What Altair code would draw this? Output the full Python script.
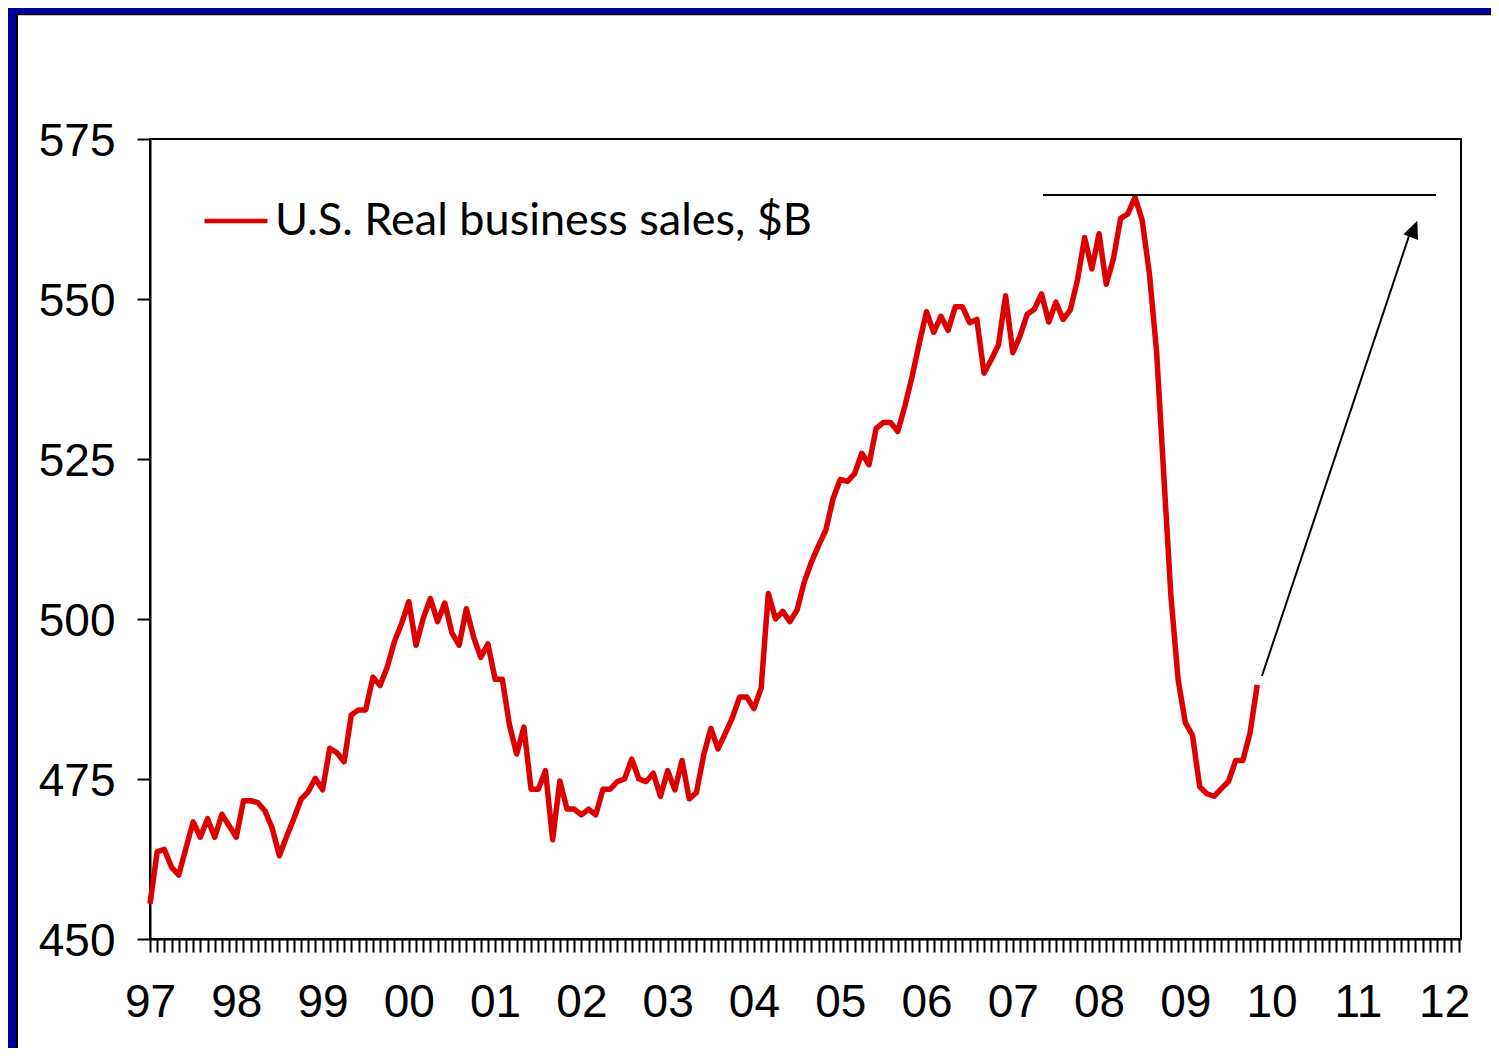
import altair as alt
import pandas as pd

# ---------------- data ----------------
START_YEAR = 1997
# monthly values, Jan 1997 onwards ($B)
sales = [
    455.5, 463.6, 464.0, 461.2, 460.0, 464.2, 468.3, 465.9, 468.8, 465.9, 469.5, 467.7,
    465.9, 471.6, 471.6, 471.3, 470.0, 467.3, 463.0, 466.0, 468.8, 471.8, 473.0, 475.1,
    473.3, 479.8, 479.1, 477.7, 485.0, 485.8, 485.8, 490.9, 489.6, 492.5, 496.5, 499.3,
    502.7, 495.9, 500.1, 503.2, 499.6, 502.5, 497.8, 495.9, 501.6, 497.2, 494.0, 496.1,
    490.6, 490.6, 483.4, 478.9, 483.1, 473.4, 473.4, 476.3, 465.5, 474.7, 470.3, 470.3,
    469.4, 470.3, 469.4, 473.4, 473.4, 474.6, 475.0, 478.1, 475.0, 474.6, 475.9, 472.3,
    476.3, 473.3, 477.9, 471.9, 472.9, 478.7, 482.9, 479.7, 482.1, 484.6, 487.8, 487.8,
    486.0, 489.2, 504.0, 500.0, 501.2, 499.6, 501.4, 505.8, 508.9, 511.5, 513.9, 518.8,
    521.8, 521.5, 522.7, 525.9, 524.1, 529.8, 530.7, 530.7, 529.3, 533.3, 537.9, 543.1,
    548.0, 544.8, 547.3, 545.1, 548.8, 548.8, 546.3, 546.8, 538.4, 540.5, 542.8, 550.5,
    541.6, 544.2, 547.6, 548.4, 550.8, 546.4, 549.5, 546.8, 548.3, 553.0, 559.6, 554.7,
    560.2, 552.3, 556.3, 562.6, 563.3, 565.9, 562.3, 554.0, 541.8, 522.5, 503.5, 490.5,
    483.8, 481.8, 473.8, 472.7, 472.3, 473.5, 474.6, 477.9, 477.9, 482.2, 489.7,
]
series_name = "U.S. Real business sales, $B"

x_domain = [1997.0, 2012.195]
y_domain = [450, 575]
y_ticks = [450, 475, 500, 525, 550, 575]

# annotation: horizontal line at the previous peak, and the recovery arrow
peak_x = [2007.35, 2011.905]
peak_y = [566.25]
arrow_x = [2009.888, 2011.592]
arrow_y = [491.1, 559.84]
arrow_head_x = [2011.65]
arrow_head_y = [560.94]

# ---------------- tables ----------------
df = pd.DataFrame({
    "t": [START_YEAR + i / 12 for i in range(len(sales))],
    "value": sales,
    "series": [series_name] * len(sales),
})
peak_df = pd.DataFrame({"t": [peak_x[0]], "t2": [peak_x[1]], "v": peak_y})
arrow_df = pd.DataFrame({"t": [arrow_x[0]], "t2": [arrow_x[1]],
                         "v": [arrow_y[0]], "v2": [arrow_y[1]]})
head_df = pd.DataFrame({"t": arrow_head_x, "v": arrow_head_y})
deco_df = pd.DataFrame({"k": [0]})

month_vals = [START_YEAR + k / 12 for k in range(0, 183)]

x_scale = alt.Scale(domain=x_domain, nice=False, zero=False)
y_scale = alt.Scale(domain=y_domain, nice=False, zero=False)

x_axis = alt.Axis(
    values=month_vals,
    labelExpr="abs(datum.value - round(datum.value)) < 0.001 ? slice(toString(round(datum.value)), 2) : ''",
    labelOverlap=False, labelFlush=False, labelBound=False,
    tickSize=13, tickWidth=2, tickColor="black",
    domainColor="black", domainWidth=2,
    labelFont="Liberation Sans", labelFontSize=46, labelColor="black",
    labelPadding=28, grid=False, title=None,
)
y_axis = alt.Axis(
    values=y_ticks, tickSize=13, tickWidth=2, tickColor="black",
    domainColor="black", domainWidth=2,
    labelFont="Liberation Sans", labelFontSize=46, labelColor="black",
    labelPadding=22, labelOffset=2, grid=False, title=None,
)

X = alt.X("t:Q", scale=x_scale, axis=x_axis)
Y = alt.Y("value:Q", scale=y_scale, axis=y_axis)

# decorative navy frame on the left and top edges of the page
left_strip = alt.Chart(deco_df).mark_rect(color="#000099").encode(
    x=alt.value(-142), x2=alt.value(-134), y=alt.value(-131), y2=alt.value(909))
top_strip = alt.Chart(deco_df).mark_rect(color="#000099").encode(
    x=alt.value(-142), x2=alt.value(1341), y=alt.value(-131), y2=alt.value(-125))
left_edge = alt.Chart(deco_df).mark_rule(color="black", strokeWidth=2).encode(
    x=alt.value(-133), y=alt.value(-125), y2=alt.value(909))
top_edge = alt.Chart(deco_df).mark_rule(color="black", strokeWidth=1.5).encode(
    x=alt.value(-134), x2=alt.value(1341), y=alt.value(-124.5))

line = alt.Chart(df).mark_line(strokeWidth=5.5, strokeJoin="round").encode(
    x=X,
    y=Y,
    color=alt.Color(
        "series:N",
        scale=alt.Scale(domain=[series_name], range=["#DD0000"]),
        legend=alt.Legend(
            orient="none", legendX=52, legendY=48, title=None, padding=0,
            symbolType="stroke", symbolSize=3969, symbolStrokeWidth=4.5,
            labelFont="Lato", labelFontSize=45, labelColor="black",
            labelLimit=2000, labelOffset=5,
        ),
    ),
)

peak_rule = alt.Chart(peak_df).mark_rule(color="black", strokeWidth=2).encode(
    x=alt.X("t:Q", scale=x_scale, axis=x_axis), x2="t2:Q",
    y=alt.Y("v:Q", scale=y_scale, axis=y_axis),
)
arrow_line = alt.Chart(arrow_df).mark_rule(color="black", strokeWidth=2).encode(
    x=alt.X("t:Q", scale=x_scale, axis=x_axis), x2="t2:Q",
    y=alt.Y("v:Q", scale=y_scale, axis=y_axis), y2="v2:Q",
)
arrow_head = alt.Chart(head_df).mark_point(
    shape="M0,-1L0.9,1L-0.9,1Z", filled=True, color="black", opacity=1,
    size=306, angle=22, strokeWidth=0,
).encode(
    x=alt.X("t:Q", scale=x_scale, axis=x_axis),
    y=alt.Y("v:Q", scale=y_scale, axis=y_axis),
)

chart = alt.layer(
    left_strip, top_strip, left_edge, top_edge,
    line, peak_rule, arrow_line, arrow_head,
).properties(
    width=1311, height=800,
    autosize=alt.AutoSizeParams(type="none"),
    padding={"left": 142, "top": 131, "right": 30, "bottom": 109},
    background="white",
).configure_view(
    stroke="black", strokeWidth=2,
)

chart.save("out.html", embed_options={"renderer": "svg", "actions": False})
